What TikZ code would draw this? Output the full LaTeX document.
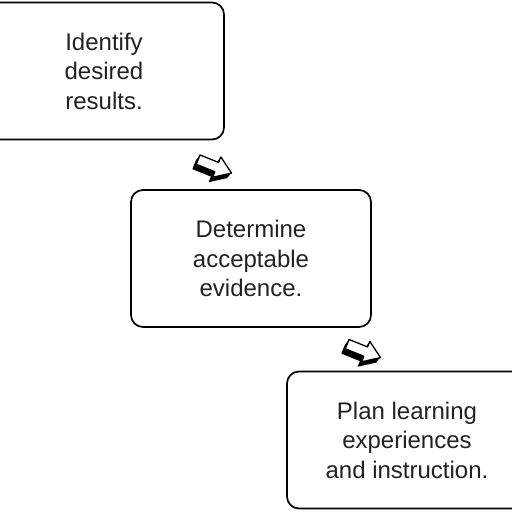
\documentclass[tikz,border=0pt]{standalone}
\usepackage{fontspec}
\setmainfont{Liberation Sans}
\usetikzlibrary{calc}
\definecolor{inkgray}{HTML}{222222}

\newcommand{\arrowshape}[1]{%
  \path[#1] (-18,-5) -- (2,-5) -- (2,-11) -- (18,0) -- (2,11)
    -- (2,5) -- (-18,5) -- cycle;}

\tikzset{
  stagebox/.style={draw=black,line width=1.7pt,rounded corners=12pt,
    minimum width=240pt,minimum height=137pt,align=center,
    text=inkgray,font=\fontsize{24}{29.5}\selectfont},
  blockarrow/.pic={
    \foreach \d in {1,...,6}
      \arrowshape{fill=black,shift={(-0.3*\d,-\d)}};
    \arrowshape{fill=white,draw=black,line width=1.3pt,line join=round};
  }
}

\begin{document}
\begin{tikzpicture}[x=1pt,y=1pt]
  \useasboundingbox (0,0) rectangle (512,512);
  \clip (0,0) rectangle (512,512);
  \fill[white] (0,0) rectangle (512,512);
  \node[stagebox] (ident) at (104,441) {Identify\\desired\\results.};
  \node[stagebox] (evid) at (251,253.5) {Determine\\acceptable\\evidence.};
  \node[stagebox] (plan) at (407,72) {Plan learning\\experiences\\and instruction.};
  % arrows between the stages
  \pic[rotate=-22] at ($(ident.south east)+(-10,-26)$) {blockarrow};
  \pic[rotate=-22] at ($(evid.south east)+(-8,-23)$) {blockarrow};
\end{tikzpicture}
\end{document}
